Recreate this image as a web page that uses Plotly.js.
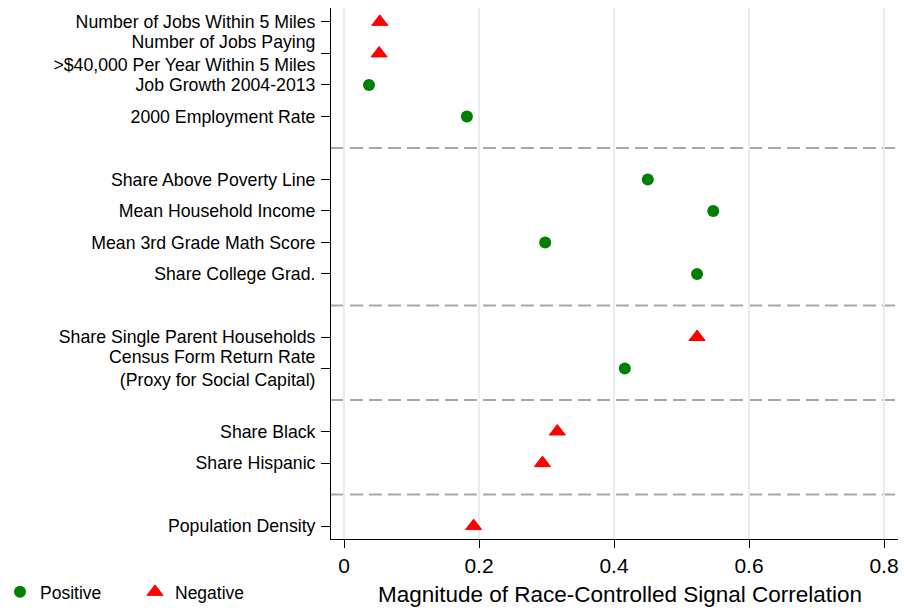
<!DOCTYPE html>
<html>
<head>
<meta charset="utf-8">
<script src="https://cdn.plot.ly/plotly-3.0.1.min.js"></script>
<style>html,body{margin:0;padding:0;background:#fff;}#chart{width:904px;height:612px;}</style>
</head>
<body>
<div id="chart"></div>
<script>
// Data (top to bottom)
const labels = [
  "Number of Jobs Within 5 Miles",
  "Number of Jobs Paying<br>>$40,000 Per Year Within 5 Miles",
  "Job Growth 2004-2013",
  "2000 Employment Rate",
  "Share Above Poverty Line",
  "Mean Household Income",
  "Mean 3rd Grade Math Score",
  "Share College Grad.",
  "Share Single Parent Households",
  "Census Form Return Rate<br>(Proxy for Social Capital)",
  "Share Black",
  "Share Hispanic",
  "Population Density"
];
const values = [0.053, 0.052, 0.037, 0.182, 0.450, 0.547, 0.298, 0.523, 0.523, 0.416, 0.316, 0.294, 0.192];
const signs = ["Negative","Negative","Positive","Positive","Positive","Positive","Positive","Positive","Negative","Positive","Negative","Negative","Negative"];
const groupSizes = [4, 4, 2, 2, 1];
const xTicks = [0, 0.2, 0.4, 0.6, 0.8];
const xTitle = "Magnitude of Race-Controlled Signal Correlation";

// Compute slot positions: each group separated by one empty slot holding a dashed line
const totalSlots = labels.length + groupSizes.length - 1;
const ypos = [];
const sepPos = [];
let cur = totalSlots - 1;
let idx = 0;
groupSizes.forEach((g, gi) => {
  for (let k = 0; k < g; k++) { ypos[idx++] = cur--; }
  if (gi < groupSizes.length - 1) { sepPos.push(cur--); }
});

function pick(sign) {
  const xs = [], ys = [];
  values.forEach((v, i) => { if (signs[i] === sign) { xs.push(v); ys.push(ypos[i]); } });
  return {xs, ys};
}
const pos = pick("Positive");
const neg = pick("Negative");

const traces = [
  {x: pos.xs, y: pos.ys, type: 'scatter', mode: 'markers', name: 'Positive',
   marker: {symbol: 'circle', size: 12, color: '#008000'}},
  {x: neg.xs, y: neg.ys, type: 'scatter', mode: 'markers', name: 'Negative',
   marker: {symbol: 'triangle-up', size: 14, color: '#ff0000', line: {color: '#ff0000', width: 1}}}
];

const shapes = sepPos.map(p => ({
  type: 'line', xref: 'paper', yref: 'y', x0: 0, x1: 1, y0: p, y1: p,
  line: {color: '#a8a8a8', width: 2, dash: '13px,6px'}, layer: 'below'
}));

const font = "'Liberation Sans', Arial, Helvetica, sans-serif";
const layout = {
  width: 904, height: 612,
  margin: {l: 331, r: 6, t: 8, b: 73},
  paper_bgcolor: '#fff', plot_bgcolor: '#fff',
  font: {family: font, color: '#000'},
  showlegend: true,
  legend: {orientation: 'h', xref: 'container', yref: 'container', x: -0.011, xanchor: 'left', y: 0.0327, yanchor: 'middle',
           font: {size: 17.5, family: font, color: '#000'}, entrywidth: 90, bgcolor: 'rgba(0,0,0,0)'},
  xaxis: {
    range: [-0.0193, 0.8207], tickvals: xTicks, ticktext: xTicks.map(v => String(v)),
    showgrid: true, gridcolor: '#e6eef1', gridwidth: 1.3, zeroline: false,
    showline: true, linecolor: '#000', linewidth: 1, mirror: false,
    ticks: 'outside', ticklen: 8, tickcolor: '#000', tickwidth: 1,
    tickfont: {size: 21, family: font, color: '#000'}
  },
  yaxis: {
    range: [-0.41, totalSlots - 1 + 0.44], tickvals: ypos, ticktext: labels,
    showgrid: false, zeroline: false,
    showline: true, linecolor: '#000', linewidth: 1,
    ticks: 'outside', ticklen: 9, tickcolor: '#000', tickwidth: 1,
    ticklabelstandoff: 2,
    tickfont: {size: 17.7, family: font, color: '#000'}
  },
  annotations: [{
    text: xTitle, xref: 'paper', yref: 'paper', x: 0.5097, y: -0.1036,
    xanchor: 'center', yanchor: 'middle', showarrow: false,
    font: {size: 22.5, family: font, color: '#000'}
  }],
  shapes: shapes
};

Plotly.newPlot('chart', traces, layout, {displayModeBar: false, staticPlot: true});
</script>
</body>
</html>
